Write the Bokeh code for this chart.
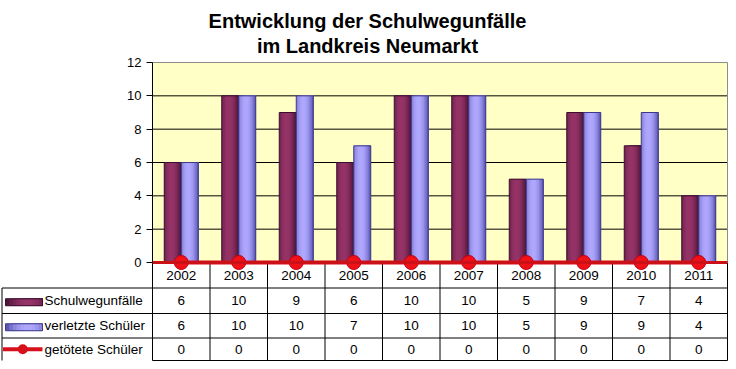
import numpy as np
from bokeh.plotting import figure
from bokeh.models import Range1d, LinearAxis, FixedTicker, ColumnDataSource
from bokeh.core.properties import value
from bokeh.embed import file_html
from bokeh.resources import INLINE

# ---------------- data ----------------
years = ["2002", "2003", "2004", "2005", "2006", "2007", "2008", "2009", "2010", "2011"]
unfaelle = [6, 10, 9, 6, 10, 10, 5, 9, 7, 4]
verletzte = [6, 10, 10, 7, 10, 10, 5, 9, 9, 4]
getoetete = [0, 0, 0, 0, 0, 0, 0, 0, 0, 0]
series_names = ["Schulwegunfälle", "verletzte Schüler", "getötete Schüler"]
y_ticks = [0, 2, 4, 6, 8, 10, 12]
title_lines = ["Entwicklung der Schulwegunfälle", "im Landkreis Neumarkt"]

# ---------------- layout ----------------
W, H = 728, 361
PL, PR = 152, 727          # plot area left/right (px)
PT, PB = 62, 262           # plot area top/bottom (px)
n = len(years)
cw = (PR - PL) / n
ymax = y_ticks[-1]
ppu = (PB - PT) / ymax
FONT = "Liberation Sans"

p = figure(width=W, height=H, output_backend="svg", toolbar_location=None,
           x_axis_type=None, y_axis_type=None, min_border=0,
           x_range=Range1d(-0.5 - PL / cw, -0.5 + (W - PL) / cw),
           y_range=Range1d(-(H - PB) / ppu, ymax + PT / ppu))
p.outline_line_color = None
p.background_fill_color = "white"
p.border_fill_color = "white"
p.extra_x_ranges = {"px": Range1d(0, W)}
p.extra_y_ranges = {"px": Range1d(H, 0)}

idx = np.arange(n)

# plot area background
p.quad(left=-0.5, right=n - 0.5, bottom=0, top=ymax, fill_color="#FFFFC6", line_color=None)
# gridlines
gy = y_ticks[1:-1]
p.segment(x0=[-0.5] * len(gy), x1=[n - 0.5] * len(gy), y0=gy, y1=gy, line_color="black", line_width=1)
# top & right borders
p.segment(x0=[-0.5, n - 0.5], x1=[n - 0.5, n - 0.5], y0=[ymax, 0], y1=[ymax, ymax],
          line_color="#8c8c8c", line_width=1)


def shade(dark, light, t, peak=0.42):
    s = float(np.clip(1 - ((t - peak) / 0.62) ** 2, 0, 1))
    return "#%02x%02x%02x" % tuple(int(d + (l - d) * s) for d, l in zip(dark, light))


MAROON = ((58, 14, 44), (150, 52, 104))
LAVENDER = ((70, 66, 158), (176, 168, 255))

bw = 17 / cw
NS = 12
for vals, off, (dk, lt), edge in [(unfaelle, -bw / 2, MAROON, "#3a0e2c"),
                                 (verletzte, bw / 2, LAVENDER, "#3c3a88")]:
    lefts, rights, tops, cols = [], [], [], []
    for j in range(NS):
        c = shade(dk, lt, (j + 0.5) / NS)
        for i in range(n):
            lefts.append(idx[i] + off - bw / 2 + j * bw / NS)
            rights.append(idx[i] + off + bw / 2)
            tops.append(vals[i])
            cols.append(c)
    src = ColumnDataSource(dict(left=lefts, right=rights, top=tops, color=cols))
    p.quad(left="left", right="right", top="top", bottom=0, fill_color="color",
           line_color=None, source=src)
    p.vbar(x=idx + off, top=vals, bottom=0, width=bw, fill_color=None,
           line_color=edge, line_width=1)

# y axis
yaxis = LinearAxis(fixed_location=-0.5, bounds=(0, ymax), ticker=FixedTicker(ticks=y_ticks))
yaxis.major_tick_out = 6
yaxis.major_tick_in = 0
yaxis.minor_tick_line_color = None
yaxis.axis_line_color = "black"
yaxis.major_tick_line_color = "black"
yaxis.major_label_text_font = FONT
yaxis.major_label_text_font_size = "13px"
yaxis.major_label_text_color = "black"
yaxis.major_label_standoff = 5
p.add_layout(yaxis, "left")

# table grid
rows = [262, 287.5, 313, 337.5, 360]
centers = [(rows[k] + rows[k + 1]) / 2 for k in range(4)]
TL = 1.5
vx = [k - 0.5 for k in range(n + 1)]
p.segment(x0=vx, x1=vx, y0=[rows[0]] * len(vx), y1=[rows[-1]] * len(vx),
          y_range_name="px", line_color="black", line_width=1)
p.segment(x0=[TL] * 3 + [PL], x1=[PR] * 4, y0=rows[1:] + [rows[0]], y1=rows[1:] + [rows[0]],
          x_range_name="px", y_range_name="px", line_color="black", line_width=1)
p.segment(x0=[TL], x1=[TL], y0=[rows[1]], y1=[rows[-1]], x_range_name="px",
          y_range_name="px", line_color="black", line_width=1)

# x axis line at zero (red)
xaxis = LinearAxis(fixed_location=0, bounds=(-0.5, n - 0.5), ticker=FixedTicker(ticks=[]))
xaxis.axis_line_color = "#cc1018"
xaxis.axis_line_width = 3
xaxis.major_tick_line_color = None
xaxis.minor_tick_line_color = None
xaxis.major_label_text_font_size = "0px"
p.add_layout(xaxis, "below")

# red series line + markers
RED = "#d8101c"
p.line(x=idx, y=getoetete, line_color=RED, line_width=4)
p.scatter(x=idx, y=getoetete, size=14, fill_color="#f01018", line_color="#c00010", line_width=1)

# table texts
tf = dict(text_font=value(FONT), text_font_size=value("13.5px"), text_color="black",
          text_baseline="middle")
p.text(x=idx, y=[centers[0]] * n, text=years, text_align="center", y_range_name="px", **tf)
for r, vals in enumerate([unfaelle, verletzte, getoetete]):
    p.text(x=idx, y=[centers[r + 1]] * n, text=[str(v) for v in vals], text_align="center",
           y_range_name="px", **tf)
p.text(x=[44] * 3, y=centers[1:], text=series_names, text_align="left",
       x_range_name="px", y_range_name="px", **tf)

# legend keys in table
KX0, KX1 = 5, 42
for r, (dk, lt), edge in [(1, MAROON, "#3a0e2c"), (2, LAVENDER, "#3c3a88")]:
    cy = centers[r] + 1.5
    ks = 10
    kw = (KX1 - KX0) / ks
    kl = [KX0 + j * kw for j in range(ks)]
    kc = [shade(dk, lt, (j + 0.5) / ks, peak=0.6) for j in range(ks)]
    p.quad(left=kl, right=[KX1] * ks, top=[cy - 3.5] * ks, bottom=[cy + 3.5] * ks,
           fill_color=kc, line_color=None, x_range_name="px", y_range_name="px")
    p.quad(left=[KX0], right=[KX1], top=[cy - 3.5], bottom=[cy + 3.5], fill_color=None,
           line_color=edge, x_range_name="px", y_range_name="px")
p.segment(x0=[TL + 1], x1=[KX1], y0=[centers[3]], y1=[centers[3]], line_color=RED, line_width=4,
          x_range_name="px", y_range_name="px")
p.scatter(x=[(TL + 1 + KX1) / 2], y=[centers[3]], size=10, fill_color=RED, line_color=None,
          x_range_name="px", y_range_name="px")

# title
p.text(x=[367, 367], y=[20, 45], text=title_lines, text_align="center",
       text_baseline="alphabetic", text_font=value(FONT), text_font_size=value("20px"),
       text_font_style="bold", text_color="black", x_range_name="px", y_range_name="px")

open("out.html", "w").write(file_html(p, INLINE))
